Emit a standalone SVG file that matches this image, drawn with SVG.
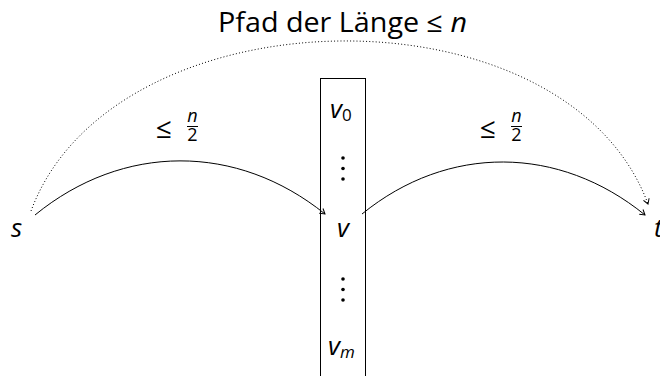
<svg xmlns="http://www.w3.org/2000/svg" width="660" height="376" viewBox="0 0 660 376">
<style>
text{font-family:"Open Sans","Liberation Sans",sans-serif;fill:#000}
.it{font-style:italic}
.lbl{font-size:26px}
.edge{fill:none;stroke:#000;stroke-width:1}
.dot{fill:none;stroke:#000;stroke-width:1;stroke-dasharray:1 2.2}
.leq{font-size:28px}
.num{font-size:18px}
</style>
<defs>
<marker id="arr" viewBox="-6 -4 8 8" refX="0" refY="0" markerWidth="8" markerHeight="8" markerUnits="userSpaceOnUse" orient="auto">
<path d="M-5,-3 L0,0 L-5,3" fill="none" stroke="#000" stroke-width="1"/>
</marker>
</defs>
<rect width="660" height="376" fill="#fff"/>
<g id="title">
<text x="218" y="32" font-size="27.5" textLength="249" lengthAdjust="spacingAndGlyphs">Pfad der Länge ≤ <tspan class="it">n</tspan></text>
</g>
<g id="s"><text class="lbl it" x="11" y="237">s</text></g>
<g id="t"><text class="lbl it" x="654" y="237">t</text></g>
<g id="box">
<rect x="320.5" y="78.5" width="45" height="310" fill="none" stroke="#000" stroke-width="1"/>
<text class="lbl it" x="330" y="118">v<tspan font-size="17" font-style="normal" dy="3">0</tspan></text>
<circle cx="343" cy="158" r="1.8"/><circle cx="343" cy="168.5" r="1.8"/><circle cx="343" cy="179" r="1.8"/>
<text class="lbl it" x="343" y="237" text-anchor="middle">v</text>
<circle cx="343" cy="279" r="1.8"/><circle cx="343" cy="289.5" r="1.8"/><circle cx="343" cy="300" r="1.8"/>
<text class="lbl it" x="328" y="355">v<tspan font-size="17" dy="3">m</tspan></text>
</g>
<g id="connectors">
<path class="dot" d="M31,211 C113,-11 566,-18 648,204" marker-end="url(#arr)"/>
<path class="edge" d="M35,215 C123,143 237,143 325,214" marker-end="url(#arr)"/>
<path class="edge" d="M362,214 C448,144 559,145 645,215" marker-end="url(#arr)"/>
</g>
<g id="label1">
<text class="leq" x="156" y="138">≤</text>
<text class="it num" x="192.5" y="122" text-anchor="middle">n</text>
<line x1="187" y1="126.5" x2="198" y2="126.5" stroke="#000" stroke-width="1"/>
<text class="num" x="192.5" y="141" text-anchor="middle">2</text>
</g>
<g id="label2">
<text class="leq" x="480" y="138">≤</text>
<text class="it num" x="516.5" y="122" text-anchor="middle">n</text>
<line x1="511" y1="126.5" x2="522" y2="126.5" stroke="#000" stroke-width="1"/>
<text class="num" x="516.5" y="141" text-anchor="middle">2</text>
</g>
</svg>
